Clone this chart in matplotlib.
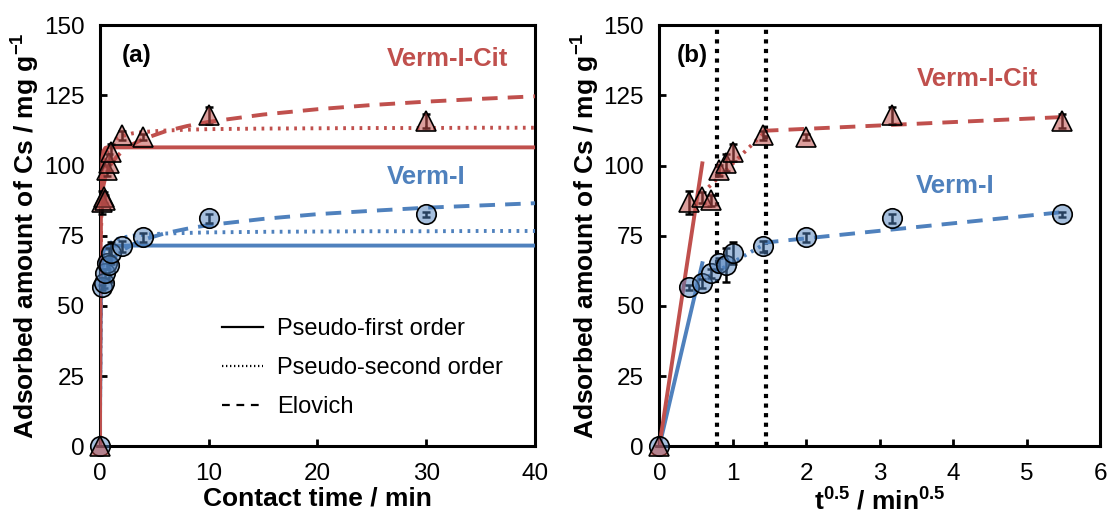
import numpy as np
import matplotlib
matplotlib.use("Agg")
import matplotlib.pyplot as plt
from matplotlib.lines import Line2D

plt.rcParams['font.family'] = ['Liberation Sans', 'DejaVu Sans']
plt.rcParams['mathtext.fontset'] = 'custom'
plt.rcParams['mathtext.rm'] = 'Liberation Sans'
plt.rcParams['mathtext.bf'] = 'Liberation Sans:bold'

# tiempo de contacto (min) y cantidad adsorbida (mg/g)
t_min = [0, 1/6, 1/3, 1/2, 2/3, 5/6, 1, 2, 4, 10, 30]
q_cit = [0, 86.9, 88.7, 87.6, 98.3, 101.0, 104.7, 110.8, 110.1, 118.0, 115.8]
q_cit_err = [0, 4.0, 2.0, 2.0, 2.0, 3.0, 3.0, 1.5, 1.0, 3.0, 2.5]
q_verm = [0, 56.6, 58.0, 61.6, 65.2, 64.5, 68.8, 71.2, 74.4, 81.2, 82.6]
q_verm_err = [0, 1.0, 1.5, 1.5, 2.0, 6.0, 4.0, 2.0, 1.5, 1.5, 1.0]

# curvas de los modelos cinéticos
t_fit = [0, 0.05, 0.1, 0.17, 0.25, 0.33, 0.5, 0.67, 1, 1.5, 2, 3, 4, 6, 8, 10, 15, 20, 25, 30, 35, 40]
pfo_cit = [0, 62, 85, 97, 103, 105.2, 106.3, 106.5, 106.5, 106.5, 106.5, 106.5, 106.5, 106.5,
           106.5, 106.5, 106.5, 106.5, 106.5, 106.5, 106.5, 106.5]
pfo_verm = [0, 40, 55, 63.5, 67.5, 69.5, 71, 71.4, 71.5, 71.5, 71.5, 71.5, 71.5, 71.5,
            71.5, 71.5, 71.5, 71.5, 71.5, 71.5, 71.5, 71.5]
pso_cit = [0, 55, 75, 88, 95, 99, 103, 105, 107.5, 109.5, 110.5, 111.5, 112, 112.5,
           112.8, 113, 113.2, 113.3, 113.4, 113.4, 113.5, 113.5]
pso_verm = [0, 38, 50, 58, 63, 66, 69, 70.8, 72.5, 73.7, 74.3, 75, 75.4, 75.8,
            76, 76.2, 76.4, 76.5, 76.6, 76.6, 76.7, 76.7]
elo_cit = [0, 78, 84.5, 88.5, 91, 93, 95.8, 97.7, 100.4, 103, 104.9, 107.6, 109.5, 112.2,
           114.1, 115.6, 118.2, 120.1, 121.6, 122.8, 123.8, 124.7]
elo_verm = [0, 47, 52.7, 55.7, 57.9, 59.4, 61.8, 63.5, 65.7, 68.0, 69.6, 71.9, 73.6, 75.9,
            77.5, 78.8, 81.0, 82.7, 83.9, 85.0, 85.8, 86.6]

# difusión intrapartícula (tramos lineales en t^0.5)
idm_cit = [([0, 0.585], [0, 100.8]), ([0.67, 1.43], [92.3, 111.8]), ([1.41, 5.48], [112.4, 117.3])]
idm_verm = [([0, 0.585], [0, 65.2]), ([0.67, 1.43], [60.5, 72.0]), ([1.41, 5.48], [72.5, 83.4])]
limites = [0.78, 1.45]

ROJO = '#C0504D'
AZUL = '#4F81BD'
cara_roja = (0.753, 0.314, 0.302, 0.55)
cara_azul = (0.310, 0.506, 0.741, 0.5)
estilos = ['-', (0, (0.7, 1.4)), (0, (4.0, 2.6))]

fig = plt.figure(figsize=(11.1, 5.17), dpi=100)
ax1 = fig.add_axes([0.090, 0.137, 0.392, 0.814])
ax2 = fig.add_axes([0.594, 0.137, 0.397, 0.814])


def puntos(ax, x, y, err, cara, marker, ms):
    ax.errorbar(x, y, yerr=err, fmt='none', ecolor='black', elinewidth=1.8, capsize=3,
                capthick=1.8, zorder=4, clip_on=False)
    ax.plot(x, y, linestyle='none', marker=marker, ms=ms, mfc=cara, mec='black', mew=1.2,
            zorder=5, clip_on=False)


# (a) modelos cinéticos
for curva, ls in zip([pfo_verm, pso_verm, elo_verm], estilos):
    ax1.plot(t_fit, curva, color=AZUL, lw=2.8, linestyle=ls, zorder=3)
for curva, ls in zip([pfo_cit, pso_cit, elo_cit], estilos):
    ax1.plot(t_fit, curva, color=ROJO, lw=2.8, linestyle=ls, zorder=3)
puntos(ax1, t_min, q_verm, q_verm_err, cara_azul, 'o', 14)
puntos(ax1, t_min, q_cit, q_cit_err, cara_roja, '^', 14.5)

ax1.set_xlim(0, 40)
ax1.set_xticks(range(0, 41, 10))
ax1.set_xlabel('Contact time / min', fontsize=19, fontweight='bold', labelpad=1)
ax1.set_ylabel(r'Adsorbed amount of Cs / mg g$^{\mathbf{-1}}$', fontsize=19,
               fontweight='bold', labelpad=2)
ax1.text(3.4, 139.3, '(a)', fontsize=17.5, fontweight='bold', ha='center', va='center')
ax1.text(32.0, 137.9, 'Verm-I-Cit', fontsize=18.5, fontweight='bold', color=ROJO,
         ha='center', va='center')
ax1.text(30.0, 95.8, 'Verm-I', fontsize=18.5, fontweight='bold', color=AZUL,
         ha='center', va='center')

handles = [Line2D([], [], color='black', lw=1.6, linestyle=ls) for ls in
           ['-', (0, (0.6, 1.2)), (0, (3.5, 3.0))]]
ax1.legend(handles, ['Pseudo-first order', 'Pseudo-second order', 'Elovich'],
           loc='upper left', bbox_to_anchor=(0.28, 0.305), frameon=False, fontsize=17,
           handlelength=1.75, handletextpad=0.6, labelspacing=0.72, borderpad=0,
           borderaxespad=0)

# (b) difusión intrapartícula
raiz_t = np.sqrt(t_min)
for x in limites:
    ax2.plot([x, x], [0, 150], color='black', lw=3, linestyle=(0, (1, 1.3)), zorder=2)
for (xs, ys), ls in zip(idm_verm, estilos):
    ax2.plot(xs, ys, color=AZUL, lw=2.8, linestyle=ls, zorder=3)
for (xs, ys), ls in zip(idm_cit, estilos):
    ax2.plot(xs, ys, color=ROJO, lw=2.8, linestyle=ls, zorder=3)
puntos(ax2, raiz_t, q_verm, q_verm_err, cara_azul, 'o', 14)
puntos(ax2, raiz_t, q_cit, q_cit_err, cara_roja, '^', 14.5)

ax2.set_xlim(0, 6)
ax2.set_xticks(range(0, 7))
ax2.set_xlabel(r't$^{\mathbf{0.5}}$ / min$^{\mathbf{0.5}}$', fontsize=19, fontweight='bold',
               labelpad=1)
ax2.set_ylabel(r'Adsorbed amount of Cs / mg g$^{\mathbf{-1}}$', fontsize=19,
               fontweight='bold', labelpad=2)
ax2.text(0.45, 139.3, '(b)', fontsize=17.5, fontweight='bold', ha='center', va='center')
ax2.text(4.33, 130.7, 'Verm-I-Cit', fontsize=18.5, fontweight='bold', color=ROJO,
         ha='center', va='center')
ax2.text(4.03, 92.6, 'Verm-I', fontsize=18.5, fontweight='bold', color=AZUL,
         ha='center', va='center')

for ax in (ax1, ax2):
    ax.set_ylim(0, 150)
    ax.set_yticks(range(0, 151, 25))
    for s in ax.spines.values():
        s.set_linewidth(2.2)
    ax.tick_params(direction='in', length=5, width=2, labelsize=17.5)
    ax.tick_params(axis='x', pad=12)
    ax.tick_params(axis='y', pad=11)

fig.savefig('out.png', dpi=100)
